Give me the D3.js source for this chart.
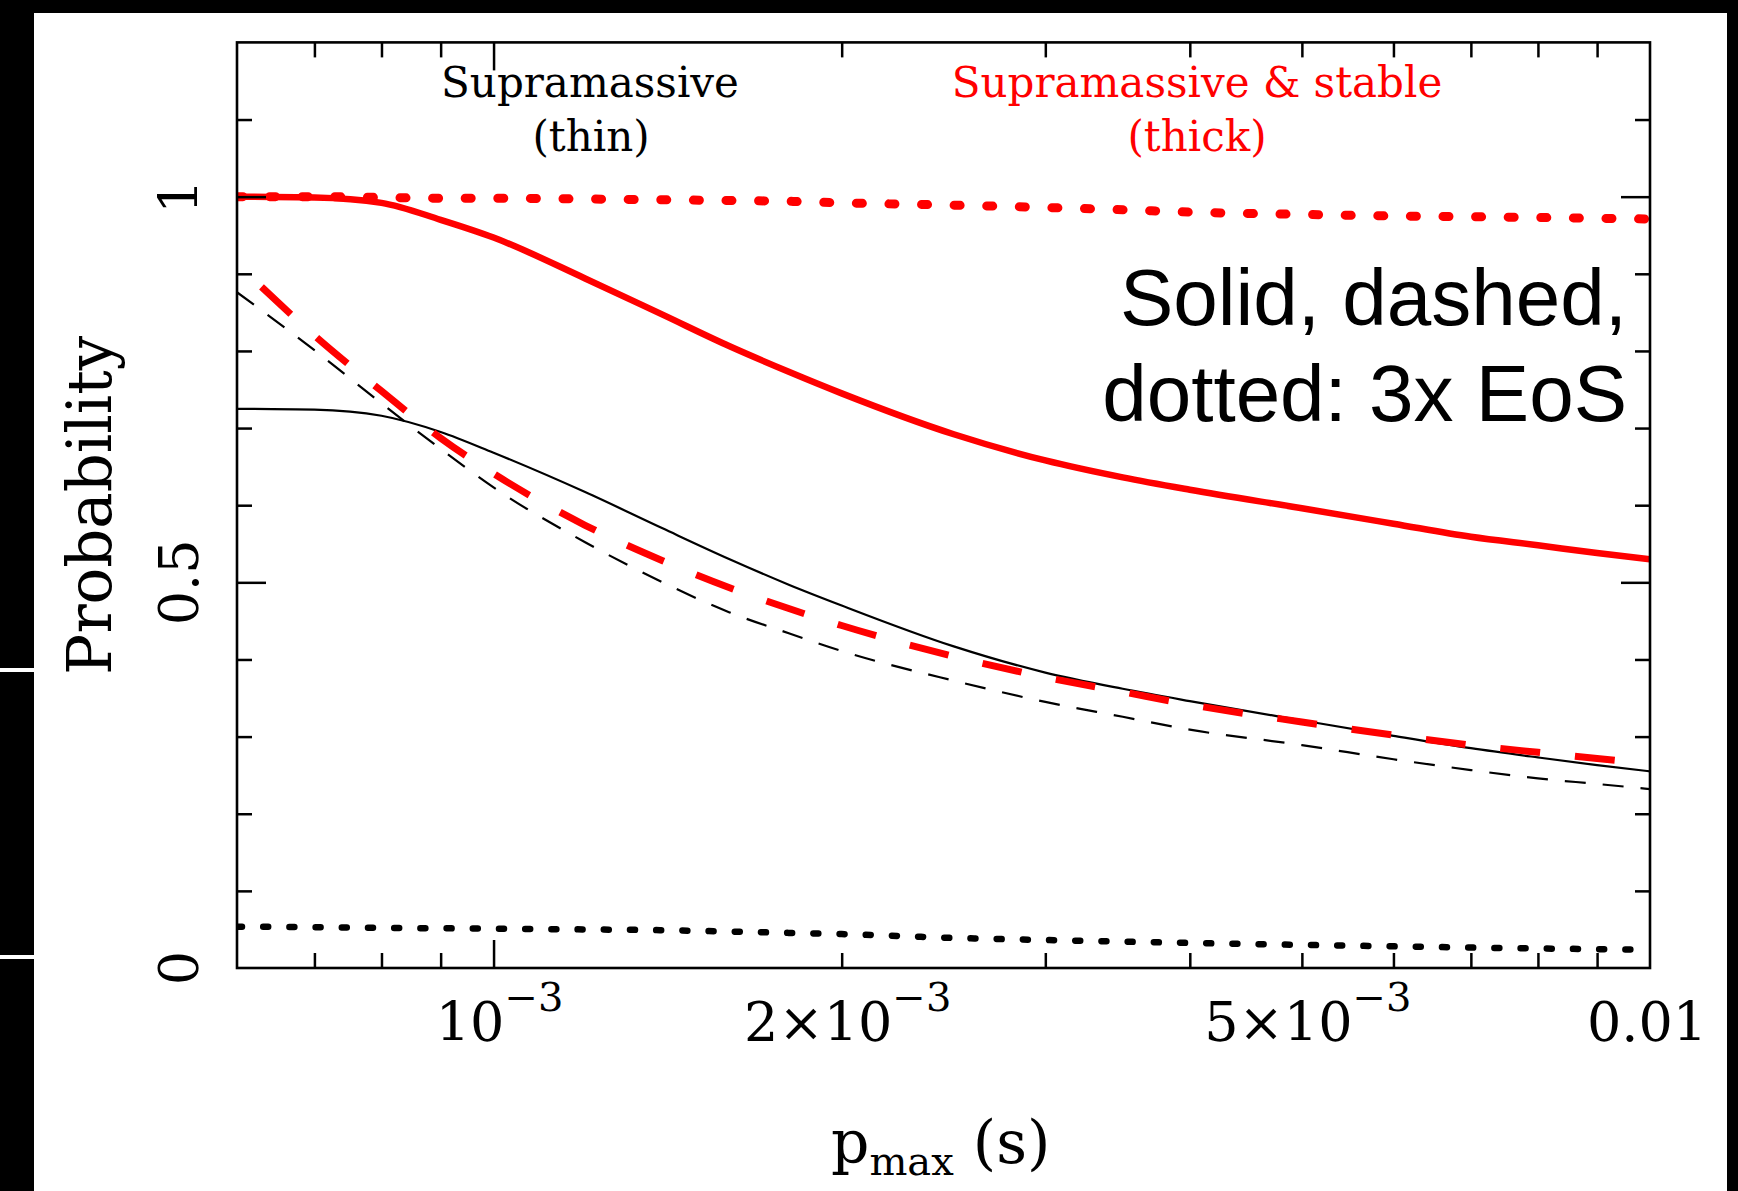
<!DOCTYPE html>
<html>
<head>
<meta charset="utf-8">
<script src="https://cdn.jsdelivr.net/npm/d3@7"></script>
<style>
  body { margin: 0; background: #000; }
  svg { display: block; }
</style>
</head>
<body>
<div id="chart"></div>
<script>
const ancho = 1738
const alto = 1191
const caja = { izquierdo: 237, derecho: 1650, superior: 42.4, inferior: 968 }

// valores (p_max en segundos, probabilidad)
const pmax = [6e-4, 7e-4, 8e-4, 9e-4, 1e-3, 1.2e-3, 1.4e-3, 1.6e-3, 1.8e-3, 2e-3, 2.5e-3, 3e-3, 3.5e-3, 4e-3, 5e-3, 6e-3, 7e-3, 8e-3, 9e-3, 1e-2]
const pmaxRayasRojas = [6.3e-4, 7e-4, 8e-4, 9e-4, 1e-3, 1.2e-3, 1.4e-3, 1.6e-3, 1.8e-3, 2e-3, 2.5e-3, 3e-3, 3.5e-3, 4e-3, 5e-3, 6e-3, 7e-3, 8e-3, 9e-3, 1e-2]

const negraSolida = [0.725, 0.724, 0.716, 0.695, 0.668, 0.617, 0.570, 0.530, 0.497, 0.470, 0.417, 0.383, 0.362, 0.346, 0.321, 0.301, 0.285, 0.273, 0.263, 0.255]
const negraRayas = [0.876, 0.801, 0.732, 0.673, 0.623, 0.552, 0.500, 0.461, 0.434, 0.411, 0.3725, 0.345, 0.3257, 0.309, 0.289, 0.2706, 0.2566, 0.2458, 0.2386, 0.232]
const negraPuntos = [0.0536, 0.053, 0.052, 0.0515, 0.051, 0.050, 0.049, 0.0473, 0.0455, 0.044, 0.039, 0.0363, 0.0342, 0.0325, 0.030, 0.0281, 0.0265, 0.0253, 0.0245, 0.0237]
const rojaSolida = [1.000, 0.999, 0.992, 0.970, 0.947, 0.894, 0.847, 0.806, 0.773, 0.745, 0.692, 0.658, 0.636, 0.620, 0.596, 0.576, 0.559, 0.548, 0.538, 0.530]
const rojaRayas = [0.883, 0.820, 0.748, 0.687, 0.641, 0.574, 0.528, 0.493, 0.466, 0.444, 0.404, 0.377, 0.358, 0.3415, 0.319, 0.302, 0.289, 0.2796, 0.2717, 0.265]
const rojaPuntos = [1.000, 1.000, 0.999, 0.998, 0.998, 0.997, 0.996, 0.995, 0.994, 0.992, 0.989, 0.986, 0.983, 0.980, 0.977, 0.975, 0.974, 0.973, 0.972, 0.971]

// ticks
const ticksMayoresX = [1e-3]
const ticksMenoresX = [7e-4, 8e-4, 9e-4, 2e-3, 3e-3, 4e-3, 5e-3, 6e-3, 7e-3, 8e-3, 9e-3]
const ticksMayoresY = [0.5, 1]
const ticksMenoresY = [0.1, 0.2, 0.3, 0.4, 0.6, 0.7, 0.8, 0.9, 1.1]
const etiquetasX = [
    { valor: 1e-3, texto: "10", exp: "\u22123" },
    { valor: 2e-3, texto: "2\u00d710", exp: "\u22123" },
    { valor: 5e-3, texto: "5\u00d710", exp: "\u22123" },
    { valor: 1e-2, texto: "0.01", exp: "" }
]
const etiquetasY = [0, 0.5, 1]
const etiquetasYTexto = ["0", "0.5", "1"]

const svg = d3.select("#chart").append("svg").attr("width", ancho).attr("height", alto)

// fondo blanco con los bordes negros de la captura
svg.append("rect").attr("x", 34).attr("y", 13).attr("width", 1727 - 34).attr("height", alto - 13).attr("fill", "#fff")
svg.append("rect").attr("x", 0).attr("y", 668).attr("width", 34).attr("height", 4).attr("fill", "#fff")
svg.append("rect").attr("x", 0).attr("y", 955).attr("width", 34).attr("height", 4).attr("fill", "#fff")

const x = d3.scaleLog().domain([6e-4, 1e-2]).range([caja.izquierdo, caja.derecho])
const y = d3.scaleLinear().domain([0, 1.2]).range([caja.inferior, caja.superior])

svg.append("defs").append("clipPath").attr("id", "recorte")
    .append("rect").attr("x", caja.izquierdo).attr("y", caja.superior)
    .attr("width", caja.derecho - caja.izquierdo).attr("height", caja.inferior - caja.superior)

const series = [
    { x: pmax, y: negraSolida, color: "#000", grosor: 2.2, rayas: null, punta: "butt" },
    { x: pmax, y: negraRayas, color: "#000", grosor: 2.2, rayas: "21 17", punta: "butt" },
    { x: pmax, y: negraPuntos, color: "#000", grosor: 6.5, rayas: "5 21.2", punta: "round" },
    { x: pmax, y: rojaSolida, color: "#ff0000", grosor: 6.5, rayas: null, punta: "butt" },
    { x: pmaxRayasRojas, y: rojaRayas, color: "#ff0000", grosor: 7, rayas: "40 35", punta: "butt" },
    { x: pmax, y: rojaPuntos, color: "#ff0000", grosor: 9, rayas: "6 26.6", punta: "round" }
]

const linea = d3.line().x(d => x(d[0])).y(d => y(d[1])).curve(d3.curveMonotoneX)

const grupoLineas = svg.append("g").attr("clip-path", "url(#recorte)")
grupoLineas.selectAll("path").data(series).enter().append("path")
    .attr("d", s => linea(s.x.map((v, i) => [v, s.y[i]])))
    .attr("fill", "none")
    .attr("stroke", s => s.color)
    .attr("stroke-width", s => s.grosor)
    .attr("stroke-dasharray", s => s.rayas)
    .attr("stroke-linecap", s => s.punta)
    .attr("stroke-linejoin", "round")

// ejes: ticks hacia dentro en los cuatro lados
const grupoEjes = svg.append("g").attr("id", "grupoEjes")
function ponerEje(eje, transform) {
    const g = grupoEjes.append("g").attr("transform", transform).call(eje)
    g.select(".domain").remove()
    g.selectAll("line").attr("stroke", "#000").attr("stroke-width", 2.5)
}
const sinTexto = () => ""
ponerEje(d3.axisBottom(x).tickValues(ticksMenoresX).tickSize(-15).tickFormat(sinTexto), `translate(0,${caja.inferior})`)
ponerEje(d3.axisBottom(x).tickValues(ticksMayoresX).tickSize(-28).tickFormat(sinTexto), `translate(0,${caja.inferior})`)
ponerEje(d3.axisTop(x).tickValues(ticksMenoresX).tickSize(-15).tickFormat(sinTexto), `translate(0,${caja.superior})`)
ponerEje(d3.axisTop(x).tickValues(ticksMayoresX).tickSize(-28).tickFormat(sinTexto), `translate(0,${caja.superior})`)
ponerEje(d3.axisLeft(y).tickValues(ticksMenoresY).tickSize(-15).tickFormat(sinTexto), `translate(${caja.izquierdo},0)`)
ponerEje(d3.axisLeft(y).tickValues(ticksMayoresY).tickSize(-29).tickFormat(sinTexto), `translate(${caja.izquierdo},0)`)
ponerEje(d3.axisRight(y).tickValues(ticksMenoresY).tickSize(-15).tickFormat(sinTexto), `translate(${caja.derecho},0)`)
ponerEje(d3.axisRight(y).tickValues(ticksMayoresY).tickSize(-29).tickFormat(sinTexto), `translate(${caja.derecho},0)`)

grupoEjes.append("rect")
    .attr("x", caja.izquierdo).attr("y", caja.superior)
    .attr("width", caja.derecho - caja.izquierdo).attr("height", caja.inferior - caja.superior)
    .attr("fill", "none").attr("stroke", "#000").attr("stroke-width", 2.6)

const serif = "'DejaVu Serif', serif"

// etiquetas del eje x
const textosX = grupoEjes.selectAll(".etiquetaX").data(etiquetasX).enter().append("text")
    .attr("class", "etiquetaX")
    .attr("x", d => x(d.valor) + (d.exp ? 6 : -3))
    .attr("y", 1041)
    .attr("text-anchor", "middle")
    .attr("font-family", serif).attr("font-size", 54).attr("fill", "#000")
textosX.append("tspan").text(d => d.texto)
textosX.filter(d => d.exp).append("tspan").attr("dy", -30).attr("font-size", 40).text(d => d.exp)

// etiquetas del eje y (giradas)
grupoEjes.selectAll(".etiquetaY").data(etiquetasY).enter().append("text")
    .attr("class", "etiquetaY")
    .attr("transform", d => `translate(198,${y(d)}) rotate(-90)`)
    .attr("text-anchor", "middle")
    .attr("font-family", serif).attr("font-size", 54).attr("fill", "#000")
    .text((d, i) => etiquetasYTexto[i])

// titulos de los ejes
svg.append("text")
    .attr("transform", `translate(111,${(caja.superior + caja.inferior) / 2}) rotate(-90)`)
    .attr("text-anchor", "middle")
    .attr("font-family", serif).attr("font-size", 61).attr("fill", "#000")
    .text("Probability")

const tituloX = svg.append("text")
    .attr("x", 831).attr("y", 1163)
    .attr("font-family", serif).attr("font-size", 60).attr("fill", "#000")
tituloX.append("tspan").text("p")
tituloX.append("tspan").attr("dy", 12).attr("font-size", 40).text("max")
tituloX.append("tspan").attr("dy", -12).text("\u00a0(s)")

// anotaciones
const anotaciones = [
    { x: 590, y: 97, texto: "Supramassive", color: "#000" },
    { x: 591, y: 151, texto: "(thin)", color: "#000" },
    { x: 1197, y: 97, texto: "Supramassive & stable", color: "#ff0000" },
    { x: 1197, y: 151, texto: "(thick)", color: "#ff0000" }
]
svg.selectAll(".anotacion").data(anotaciones).enter().append("text")
    .attr("class", "anotacion")
    .attr("x", d => d.x).attr("y", d => d.y)
    .attr("text-anchor", "middle")
    .attr("font-family", serif).attr("font-size", 42).attr("fill", d => d.color)
    .text(d => d.texto)

const sans = "'Liberation Sans', Arial, Helvetica, sans-serif"
svg.append("text").attr("x", 1627).attr("y", 325).attr("text-anchor", "end")
    .attr("font-family", sans).attr("font-size", 80).attr("fill", "#000")
    .text("Solid, dashed,")
svg.append("text").attr("x", 1627).attr("y", 421).attr("text-anchor", "end")
    .attr("font-family", sans).attr("font-size", 80).attr("fill", "#000")
    .text("dotted: 3x EoS")
</script>
</body>
</html>
